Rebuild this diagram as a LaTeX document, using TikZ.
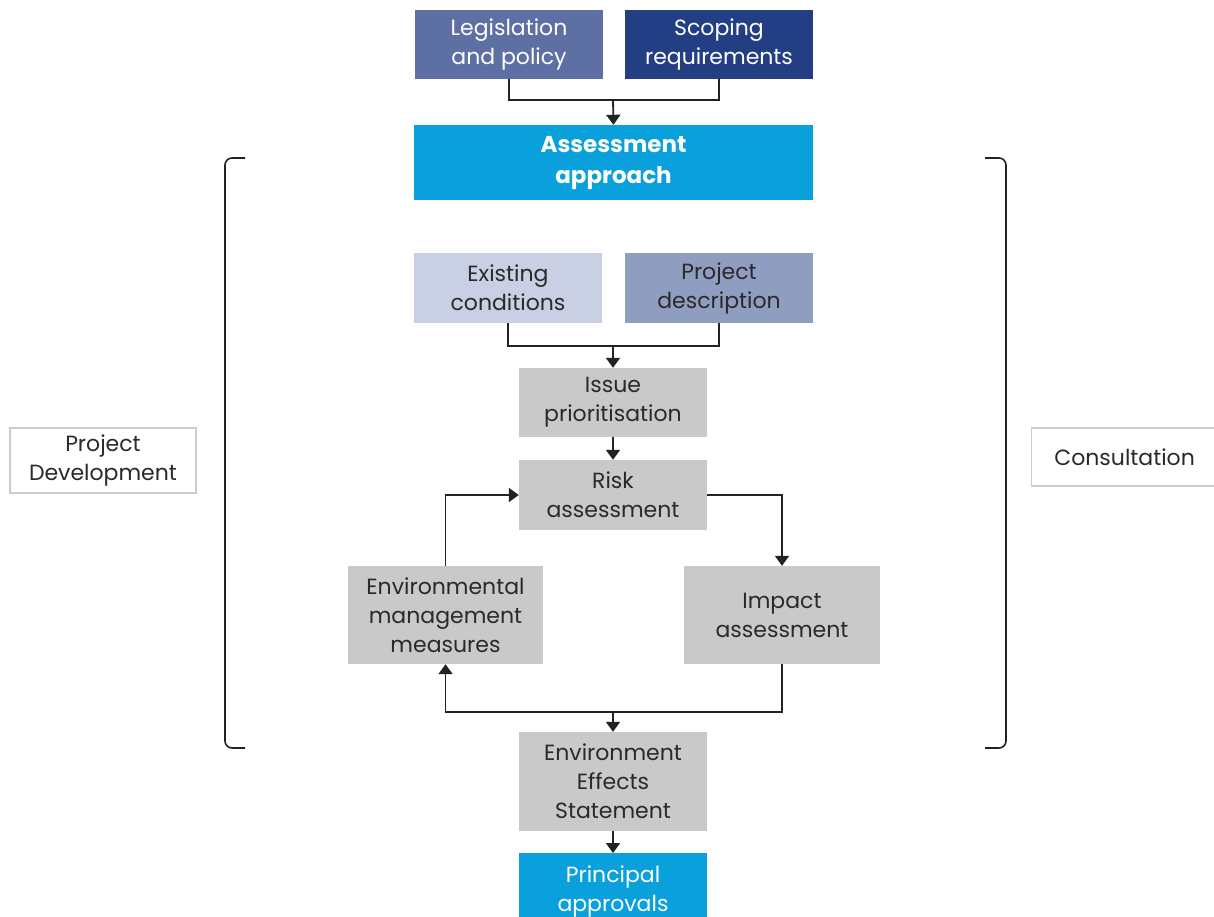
\documentclass[tikz,border=0pt]{standalone}
\usepackage{fontspec}
\setmainfont{Poppins}
\usetikzlibrary{arrows.meta}
\definecolor{legc}{HTML}{5D6FA3}
\definecolor{scopec}{HTML}{233E83}
\definecolor{bluec}{HTML}{0AA0DC}
\definecolor{existc}{HTML}{C9D0E3}
\definecolor{projc}{HTML}{8F9DC0}
\definecolor{greyc}{HTML}{C9C9C9}
\definecolor{linec}{HTML}{222222}
\definecolor{txtc}{HTML}{2A2A2A}
\definecolor{framec}{HTML}{CCCCCC}
\begin{document}
\begin{tikzpicture}[x=1pt,y=-1pt,
  box/.style={rectangle, inner sep=0pt, align=center, font=\fontsize{22}{29}\selectfont},
  whitebox/.style={box, text=white},
  greybox/.style={box, fill=greyc, text=txtc},
  sidebox/.style={box, draw=framec, line width=1.2pt, fill=white, text=txtc},
  conn/.style={draw=linec, line width=1.8pt},
  arr/.style={conn, -{Triangle[length=10pt,width=14pt]}},
  brack/.style={draw=linec, line width=1.6pt, rounded corners=7pt}
]
\clip (0,0) rectangle (1214,917);
\useasboundingbox (0,0) rectangle (1214,917);
\fill[white] (0,0) rectangle (1214,917);

\node[whitebox, fill=legc, minimum width=188pt, minimum height=69pt] (leg) at (509,44.5) {Legislation\\and policy};
\node[whitebox, fill=scopec, minimum width=188pt, minimum height=69pt] (scope) at (719,44.5) {Scoping\\requirements};
\node[whitebox, fill=bluec, minimum width=399pt, minimum height=75pt, font=\fontsize{23}{31}\selectfont\bfseries] (assess) at (613.5,162.5) {Assessment\\approach};

\node[box, fill=existc, text=txtc, minimum width=188pt, minimum height=70pt] (exist) at (508,288) {Existing\\conditions};
\node[box, fill=projc, text=txtc, minimum width=188pt, minimum height=70pt] (proj) at (719,288) {Project\\description};
\node[greybox, minimum width=188pt, minimum height=69pt] (issue) at (613,402.5) {Issue\\prioritisation};
\node[greybox, minimum width=188pt, minimum height=70pt] (risk) at (613,495) {Risk\\assessment};
\node[greybox, minimum width=195pt, minimum height=98pt] (env) at (445.5,615) {Environmental\\management\\measures};
\node[greybox, minimum width=196pt, minimum height=98pt] (impact) at (782,615) {Impact\\assessment};
\node[greybox, minimum width=188pt, minimum height=99pt] (ees) at (613,781.5) {Environment\\Effects\\Statement};
\node[whitebox, fill=bluec, minimum width=188pt, minimum height=76pt, anchor=north] (princ) at (613,853) {Principal\\approvals};

\node[sidebox, minimum width=186pt, minimum height=65pt] (pdev) at (103,460.5) {Project\\Development};
\node[sidebox, minimum width=186pt, minimum height=58pt, anchor=west] (consult) at (1031,457) {Consultation};

\coordinate (j1) at (613,100);
\coordinate (j2) at (613,346);
\coordinate (j3) at (613,712);

\draw[conn] (leg.south) |- (j1) -| (scope.south);
\draw[arr] (j1) -- (assess.north);
\draw[conn] (exist.south) |- (j2) -| (proj.south);
\draw[arr] (j2) -- (issue.north);
\draw[arr] (issue.south) -- (risk.north);
\draw[arr] (risk.east) -| (impact.north);
\draw[arr] (env.north) |- (risk.west);
\draw[conn] (impact.south) |- (j3);
\draw[arr] (j3) -| (env.south);
\draw[arr] (j3) -- (ees.north);
\draw[arr] (ees.south) -- (princ.north);

\coordinate (lbt) at (245,158);
\coordinate (lbb) at (245,748);
\coordinate (rbt) at (985,158);
\coordinate (rbb) at (985,748);
\draw[brack] (lbt) -- (225,158) -- (225,748) -- (lbb);
\draw[brack] (rbt) -- (1006,158) -- (1006,748) -- (rbb);
\end{tikzpicture}
\end{document}
